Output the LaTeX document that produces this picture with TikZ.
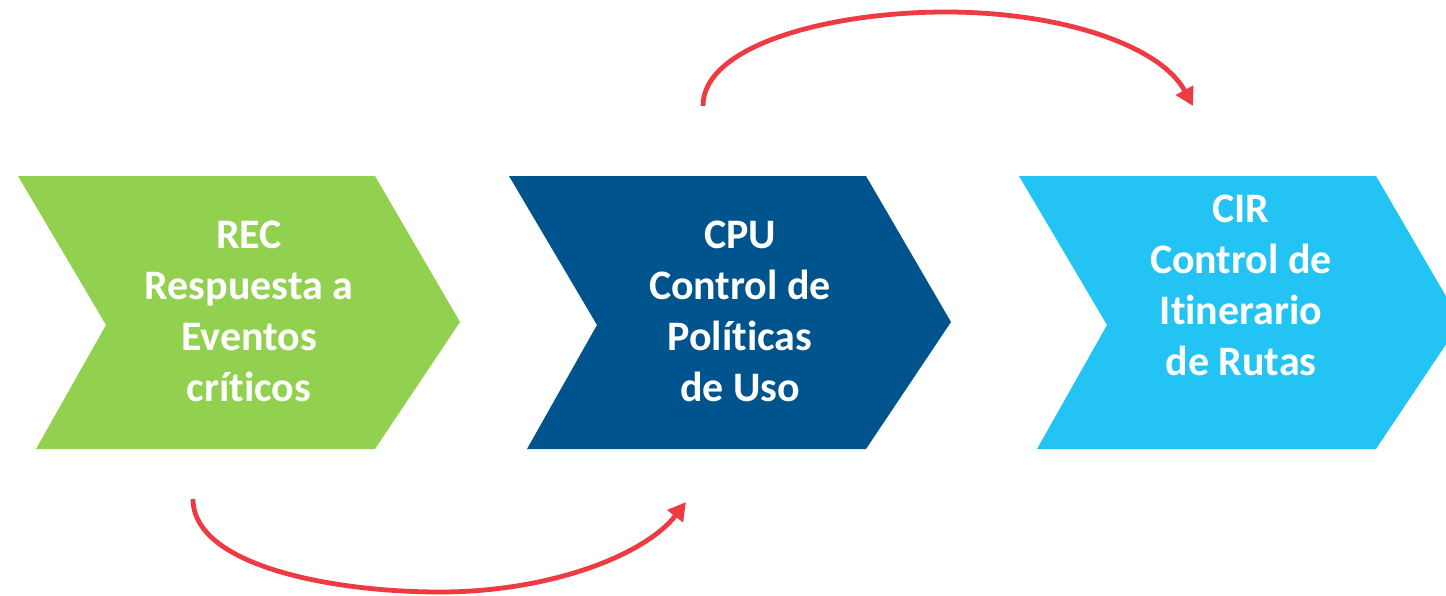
\documentclass[tikz,border=0pt]{standalone}
\usepackage{fontspec}
\setmainfont{Carlito}[Ligatures=NoCommon]
\usetikzlibrary{arrows.meta}
\definecolor{recgreen}{RGB}{146,208,80}
\definecolor{cpublue}{RGB}{0,84,142}
\definecolor{cirblue}{RGB}{35,196,244}
\definecolor{jumpred}{RGB}{238,59,67}
\tikzset{step text/.style={text=white, align=center, font=\bfseries\fontsize{21}{25.5}\selectfont}}
\tikzset{jump arrow/.style={draw=jumpred, line width=2.4pt, -{Triangle[length=9pt,width=9.5pt]}}}
\newcommand{\chevronpath}{(18,176) -- (375,176) -- (460,322) -- (375,449) -- (36,449) -- (106,325) -- cycle}

\begin{document}
\begin{tikzpicture}[x=0.5pt, y=-0.5pt]
\clip (0,0) rectangle (1446,595);
% the three steps
\fill[recgreen] \chevronpath;
\fill[cpublue, shift={(491,0)}] \chevronpath;
\fill[cirblue, shift={(1001,0)}] \chevronpath;
\node[step text] (rec) at (249,311) {REC\\Respuesta a\\Eventos\\críticos};
\node[step text] (cpu) at (740,311) {CPU\\Control de\\Políticas\\de Uso};
\node[step text] (cir) at (1241,285) {CIR\\Control de\\Itinerario\\de Rutas};
% arc ends
\coordinate (recout) at (193,499);
\coordinate (cpuin) at (686,502);
\coordinate (cpuout) at (703,106);
\coordinate (cirin) at (1193,106);
\draw[jump arrow] (recout) .. controls (193,565) and (330,592) .. (440,592)
  .. controls (550,592) and (645,555) .. (cpuin);
\draw[jump arrow] (cpuout) .. controls (703,45) and (830,12) .. (946,12)
  .. controls (1060,12) and (1160,45) .. (cirin);
\end{tikzpicture}
\end{document}
